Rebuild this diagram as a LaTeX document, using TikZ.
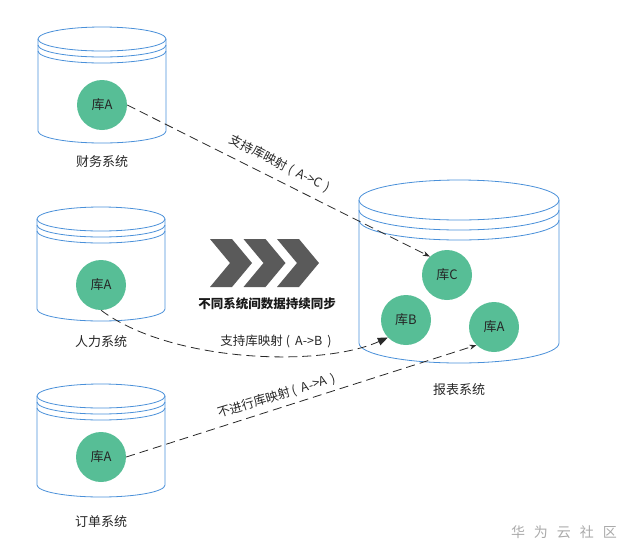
\documentclass[tikz,border=0pt]{standalone}
\usepackage{fontspec}
\setmainfont{Noto Sans CJK SC}
\usetikzlibrary{arrows.meta}
\definecolor{dbgreen}{RGB}{87,190,150}
\definecolor{cylblue}{RGB}{74,144,217}
\definecolor{chevgray}{RGB}{90,90,90}
\definecolor{linedark}{RGB}{40,40,40}
\definecolor{wmgray}{RGB}{170,170,170}
% cx, top centre y, bottom centre y, rx, ry, gap
\newcommand\dbcyl[6]{%
  \draw[cylline] ({#1-#4},#2) -- ({#1-#4},#3) arc[start angle=180,end angle=0,x radius=#4,y radius=#5] -- ({#1+#4},#2);
  \draw[cylline] (#1,#2) ellipse[x radius=#4,y radius=#5];
  \draw[cylline] ({#1-#4},{#2+#6}) arc[start angle=180,end angle=0,x radius=#4,y radius=#5];
  \draw[cylline] ({#1-#4},{#2+2*#6}) arc[start angle=180,end angle=0,x radius=#4,y radius=#5];
}
\newcommand\mapto[1]{\hspace{3pt}(\hspace{5pt}#1\hspace{5pt})}
\begin{document}
\begin{tikzpicture}[x=1pt,y=-1pt,
  cylline/.style={draw=cylblue,line width=0.8pt},
  db/.style={circle,fill=dbgreen,minimum size=50pt,inner sep=0pt,font=\fontsize{13}{15}\selectfont,text=black!85},
  syslabel/.style={font=\fontsize{13}{15}\selectfont,text=black!85},
  conn/.style={draw=linedark,line width=0.8pt,dash pattern=on 9pt off 5pt},
  maplabel/.style={font=\fontsize{12.5}{14}\selectfont,text=black!85,inner sep=1pt},
  chevshape/.style={fill=chevgray}]
\useasboundingbox (0,0) rectangle (630,558);

% cylinders
\dbcyl{102}{39}{131}{64}{12}{6}
\dbcyl{101}{219}{309}{64}{12}{6}
\dbcyl{101}{396}{485}{64}{12}{6}
\dbcyl{459}{200}{343}{100}{20}{10}

% databases
\node[db] (a1) at (102,105) {库A};
\node[db] (a2) at (101,285) {库A};
\node[db] (a3) at (101,457) {库A};
\node[db] (rc) at (447,275) {库C};
\node[db] (rb) at (406,320) {库B};
\node[db] (ra) at (494,327) {库A};

% system labels
\node[syslabel] (s1) at (102,162) {财务系统};
\node[syslabel] (s2) at (101,342) {人力系统};
\node[syslabel] (s3) at (101,522) {订单系统};
\node[syslabel] (s4) at (459,390) {报表系统};

% chevrons
\foreach \i in {0,1,2}{
  \fill[chevshape] ({210+33.5*\i},239) -- ++(22,0) -- ++(20,24) -- ++(-20,24) -- ++(-22,0) -- ++(20,-24) -- cycle;
}
\node[font=\bfseries\fontsize{12.5}{15}\selectfont,text=black!90] (sync) at (267,304) {不同系统间数据持续同步};

% connectors
\draw[conn,-{Stealth[length=7pt,width=5pt]}] (a1.east) -- (rc.133);
\draw[conn,-{Triangle[length=10pt,width=8pt]}] (a2.south) .. controls (170,362) and (320,368) .. (rb.224);
\draw[conn,-{Stealth[length=7pt,width=5pt]}] (a3.east) -- (ra.226);

% connector labels
\node[maplabel,rotate=-27] (l1) at (280,164) {支持库映射\mapto{A->C}};
\node[maplabel] (l2) at (276,341) {支持库映射\mapto{A->B}};
\node[maplabel,rotate=17] (l3) at (277,396) {不进行库映射\mapto{A->A}};

% watermark
\node[text=wmgray,font=\fontsize{14}{16}\selectfont] (wm) at (564,532) {华\hspace{9pt}为\hspace{9pt}云\hspace{9pt}社\hspace{9pt}区};
\end{tikzpicture}
\end{document}
